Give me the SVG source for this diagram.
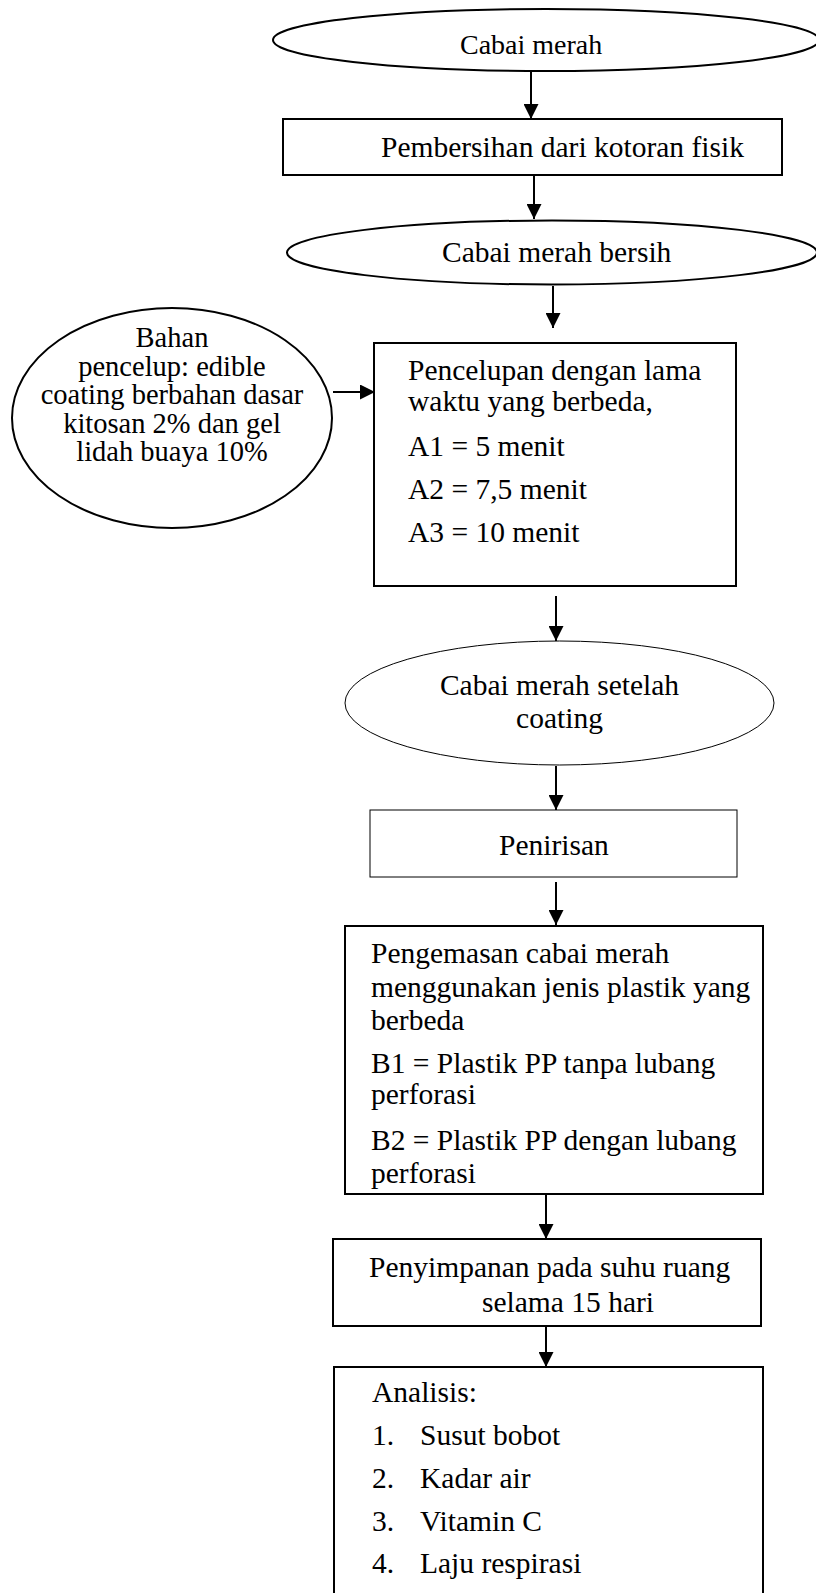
<svg xmlns="http://www.w3.org/2000/svg" width="816" height="1593" viewBox="0 0 816 1593">
<style>
.t{font-family:"Liberation Serif","Times New Roman",serif;font-size:29.5px;fill:#000}
.e{font-size:28.5px}
.s{fill:#fff;stroke:#000;stroke-width:2}
.thin{fill:#fff;stroke:#000;stroke-width:1}
.c{stroke:#000;stroke-width:2;fill:none}
</style>
<defs>
<marker id="ah" viewBox="0 0 10 10" refX="10" refY="5" markerWidth="15" markerHeight="15" markerUnits="userSpaceOnUse" orient="auto"><path d="M0,0 L10,5 L0,10 z" fill="#000"/></marker>
</defs>
<rect width="816" height="1593" fill="#fff"/>
<g id="n1"><ellipse class="s" cx="546" cy="40" rx="273" ry="31"/><text class="t" x="460" y="54" style="font-size:28px">Cabai merah</text></g>
<g id="n2"><rect class="s" x="283" y="119" width="499" height="56"/><text class="t" x="381" y="157">Pembersihan dari kotoran fisik</text></g>
<g id="n3"><ellipse class="s" cx="552" cy="252.5" rx="265" ry="32"/><text class="t" x="442" y="262">Cabai merah bersih</text></g>
<g id="n4"><ellipse class="s" cx="172" cy="418" rx="160" ry="110"/>
<text class="t e" text-anchor="middle" x="172" y="347">Bahan</text>
<text class="t e" text-anchor="middle" x="172" y="375.5">pencelup: edible</text>
<text class="t e" text-anchor="middle" x="172" y="404">coating berbahan dasar</text>
<text class="t e" text-anchor="middle" x="172" y="432.5">kitosan 2% dan gel</text>
<text class="t e" text-anchor="middle" x="172" y="461">lidah buaya 10%</text></g>
<g id="n5"><rect class="s" x="374" y="343" width="362" height="243"/>
<text class="t" x="408" y="380">Pencelupan dengan lama</text>
<text class="t" x="408" y="411">waktu yang berbeda,</text>
<text class="t" x="408" y="456">A1 = 5 menit</text>
<text class="t" x="408" y="499">A2 = 7,5 menit</text>
<text class="t" x="408" y="542">A3 = 10 menit</text></g>
<g id="n6"><ellipse class="thin" cx="559.5" cy="703" rx="214.5" ry="62"/>
<text class="t" text-anchor="middle" x="559.5" y="695">Cabai merah setelah</text>
<text class="t" text-anchor="middle" x="559.5" y="728">coating</text></g>
<g id="n7"><rect class="thin" x="370" y="810" width="367" height="67"/><text class="t" x="499" y="855">Penirisan</text></g>
<g id="n8"><rect class="s" x="345" y="926" width="418" height="268"/>
<text class="t" x="371" y="963">Pengemasan cabai merah</text>
<text class="t" x="371" y="997">menggunakan jenis plastik yang</text>
<text class="t" x="371" y="1030">berbeda</text>
<text class="t" x="371" y="1073">B1 = Plastik PP tanpa lubang</text>
<text class="t" x="371" y="1104">perforasi</text>
<text class="t" x="371" y="1150">B2 = Plastik PP dengan lubang</text>
<text class="t" x="371" y="1183">perforasi</text></g>
<g id="n9"><rect class="s" x="333" y="1239" width="428" height="87"/>
<text class="t" x="369" y="1277">Penyimpanan pada suhu ruang</text>
<text class="t" x="482" y="1312">selama 15 hari</text></g>
<g id="n10"><rect class="s" x="334" y="1367" width="429" height="240"/>
<text class="t" x="372" y="1402">Analisis:</text>
<text class="t" x="372" y="1445">1.</text><text class="t" x="420" y="1445">Susut bobot</text>
<text class="t" x="372" y="1488">2.</text><text class="t" x="420" y="1488">Kadar air</text>
<text class="t" x="372" y="1531">3.</text><text class="t" x="420" y="1531">Vitamin C</text>
<text class="t" x="372" y="1573">4.</text><text class="t" x="420" y="1573">Laju respirasi</text></g>
<g id="connectors">
<line class="c" x1="531" y1="72" x2="531" y2="119" marker-end="url(#ah)"/>
<line class="c" x1="534" y1="175" x2="534" y2="219" marker-end="url(#ah)"/>
<line class="c" x1="553" y1="286" x2="553" y2="328" marker-end="url(#ah)"/>
<line class="c" x1="333" y1="392" x2="375" y2="392" marker-end="url(#ah)"/>
<line class="c" x1="556" y1="596" x2="556" y2="641" marker-end="url(#ah)"/>
<line class="c" x1="556" y1="766" x2="556" y2="810" marker-end="url(#ah)"/>
<line class="c" x1="556" y1="882" x2="556" y2="925" marker-end="url(#ah)"/>
<line class="c" x1="546" y1="1194" x2="546" y2="1239" marker-end="url(#ah)"/>
<line class="c" x1="546" y1="1326" x2="546" y2="1367" marker-end="url(#ah)"/>
</g>
</svg>
